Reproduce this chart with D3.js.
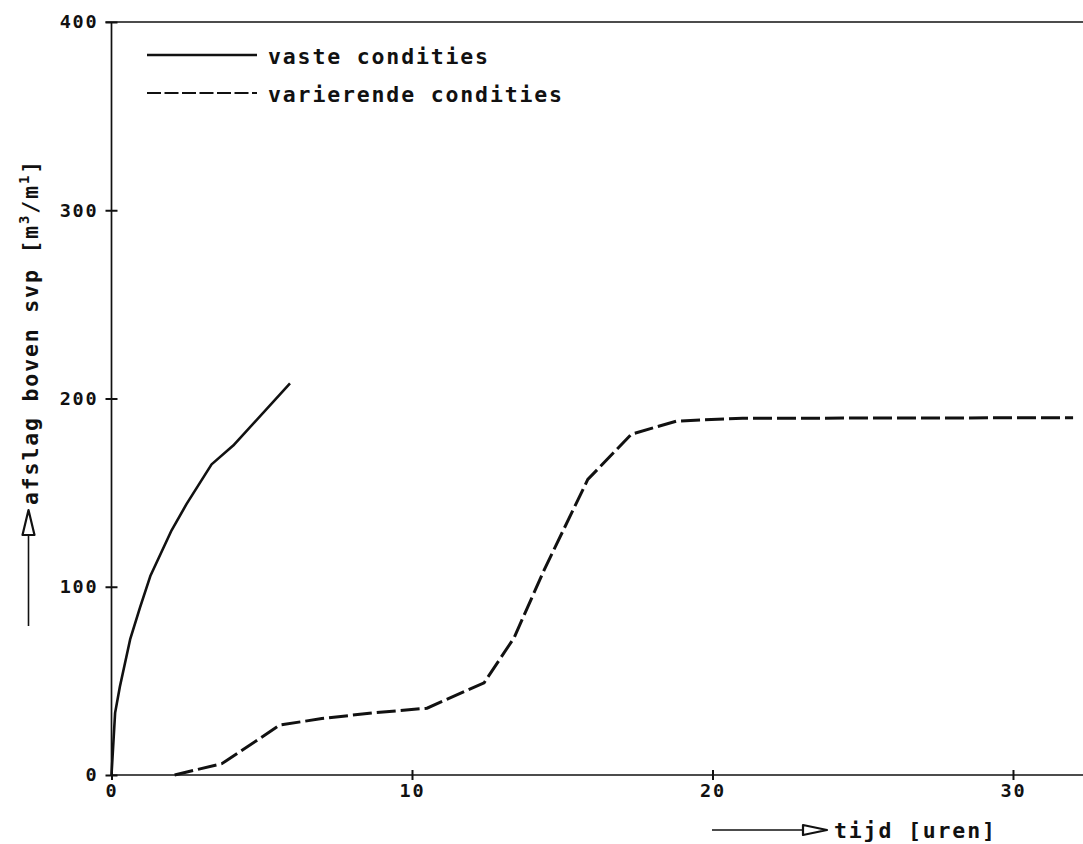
<!DOCTYPE html>
<html>
<head>
<meta charset="utf-8">
<script src="https://cdn.jsdelivr.net/npm/d3@7/dist/d3.min.js"></script>
<style>
  html, body { margin: 0; padding: 0; background: #fff; }
  svg { display: block; }
  text { font-family: "DejaVu Sans Mono", monospace; font-weight: bold; fill: #111; }
</style>
</head>
<body>
<svg id="chart" width="1083" height="844"></svg>
<script>
// ---- data ----
const vasteX = [0, 0.12, 0.28, 0.62, 0.95, 1.3, 2.0, 2.5, 3.33, 4.05, 5.94];
const vasteY = [0, 33, 47, 72, 89, 106, 130, 144, 165, 175, 208];
const varX = [2.1, 3.67, 5.6, 7.0, 8.7, 10.5, 12.4, 13.4, 14.4, 15.85, 17.3, 18.8, 21, 32.0];
const varY = [0, 6, 26.5, 30, 33, 35.5, 49, 73, 109, 157, 181, 188, 189.5, 189.8];
const xTicks = [0, 10, 20, 30];
const yTicks = [0, 100, 200, 300, 400];
const legendLabels = ["vaste condities", "varierende condities"];
const xLabel = "tijd [uren]";

const svg = d3.select("#chart");
const x = d3.scaleLinear().domain([0, 32.33]).range([111.5, 1083]);
const y = d3.scaleLinear().domain([0, 400]).range([775, 22]);

const ink = "#111";
const tickFont = "18.5px", tickSpacing = "1.8px";
const labelFont = "21.5px", labelSpacing = "1.85px";

// frame: left axis, bottom axis, top line
svg.append("line").attr("x1", x(0)).attr("x2", x(0)).attr("y1", y(400)).attr("y2", y(0))
  .attr("stroke", ink).attr("stroke-width", 1.7);
svg.append("line").attr("x1", x(0)).attr("x2", 1083).attr("y1", y(0)).attr("y2", y(0))
  .attr("stroke", ink).attr("stroke-width", 1.7);
svg.append("line").attr("x1", x(0) - 6).attr("x2", 1083).attr("y1", y(400)).attr("y2", y(400))
  .attr("stroke", ink).attr("stroke-width", 1.7);

// y axis
const yAxis = svg.append("g").attr("transform", `translate(${x(0)},0)`)
  .call(d3.axisLeft(y).tickValues(yTicks).tickSize(0).tickPadding(13).tickFormat(d3.format("d")));
yAxis.select(".domain").remove();
yAxis.selectAll(".tick").append("line").attr("x1", -6).attr("x2", 6).attr("y1", 0).attr("y2", 0)
  .attr("stroke", ink).attr("stroke-width", 2);
yAxis.selectAll(".tick text")
  .style("font-family", '"DejaVu Sans Mono", monospace').style("font-weight", "bold")
  .style("font-size", tickFont).style("letter-spacing", tickSpacing).attr("fill", ink);

// x axis
const xAxis = svg.append("g").attr("transform", `translate(0,${y(0)})`)
  .call(d3.axisBottom(x).tickValues(xTicks).tickSize(0).tickPadding(9).tickFormat(d3.format("d")));
xAxis.select(".domain").remove();
xAxis.selectAll(".tick").append("line").attr("x1", 0).attr("x2", 0).attr("y1", -5).attr("y2", 5)
  .attr("stroke", ink).attr("stroke-width", 2);
xAxis.selectAll(".tick text")
  .style("font-family", '"DejaVu Sans Mono", monospace').style("font-weight", "bold")
  .style("font-size", tickFont).style("letter-spacing", tickSpacing).attr("fill", ink);

// series
const line = d3.line().x(d => x(d[0])).y(d => y(d[1]));
svg.append("path").datum(d3.zip(vasteX, vasteY)).attr("d", line)
  .attr("fill", "none").attr("stroke", ink).attr("stroke-width", 2.6)
  .attr("stroke-linejoin", "round");
svg.append("path").datum(d3.zip(varX, varY)).attr("d", line)
  .attr("fill", "none").attr("stroke", ink).attr("stroke-width", 3)
  .attr("stroke-dasharray", "19,5");

// legend
const legend = svg.append("g");
legend.append("line").attr("x1", 147).attr("x2", 257).attr("y1", 55).attr("y2", 55)
  .attr("stroke", ink).attr("stroke-width", 2.4);
legend.append("line").attr("x1", 147).attr("x2", 257).attr("y1", 93).attr("y2", 93)
  .attr("stroke", ink).attr("stroke-width", 2.2).attr("stroke-dasharray", "14,3.5");
legend.selectAll("text.leg").data(legendLabels).join("text").attr("class", "leg")
  .attr("x", 268).attr("y", (d, i) => 64 + i * 38)
  .style("font-size", labelFont).style("letter-spacing", labelSpacing).text(d => d);

// x label with arrow
svg.append("line").attr("x1", 712).attr("x2", 804).attr("y1", 830).attr("y2", 830)
  .attr("stroke", ink).attr("stroke-width", 1.6);
svg.append("path").attr("d", "M803,825 L827,830 L803,835 Z")
  .attr("fill", "#fff").attr("stroke", ink).attr("stroke-width", 2.2).attr("stroke-linejoin", "round");
svg.append("text").attr("x", 834).attr("y", 838)
  .style("font-size", labelFont).style("letter-spacing", labelSpacing).text(xLabel);

// y label with arrow
svg.append("line").attr("x1", 28.5).attr("x2", 28.5).attr("y1", 626).attr("y2", 534)
  .attr("stroke", ink).attr("stroke-width", 1.6);
svg.append("path").attr("d", "M22.5,535 L28.5,510 L34.5,535 Z")
  .attr("fill", "#fff").attr("stroke", ink).attr("stroke-width", 2.2).attr("stroke-linejoin", "round");
const yl = svg.append("text").attr("transform", "translate(38,505) rotate(-90)")
  .style("font-size", labelFont).style("letter-spacing", labelSpacing);
yl.append("tspan").text("afslag boven svp [m");
yl.append("tspan").attr("dy", -9).style("font-size", "14px").text("3");
yl.append("tspan").attr("dy", 9).text("/m");
yl.append("tspan").attr("dy", -9).style("font-size", "14px").text("1");
yl.append("tspan").attr("dy", 9).text("]");
</script>
</body>
</html>
